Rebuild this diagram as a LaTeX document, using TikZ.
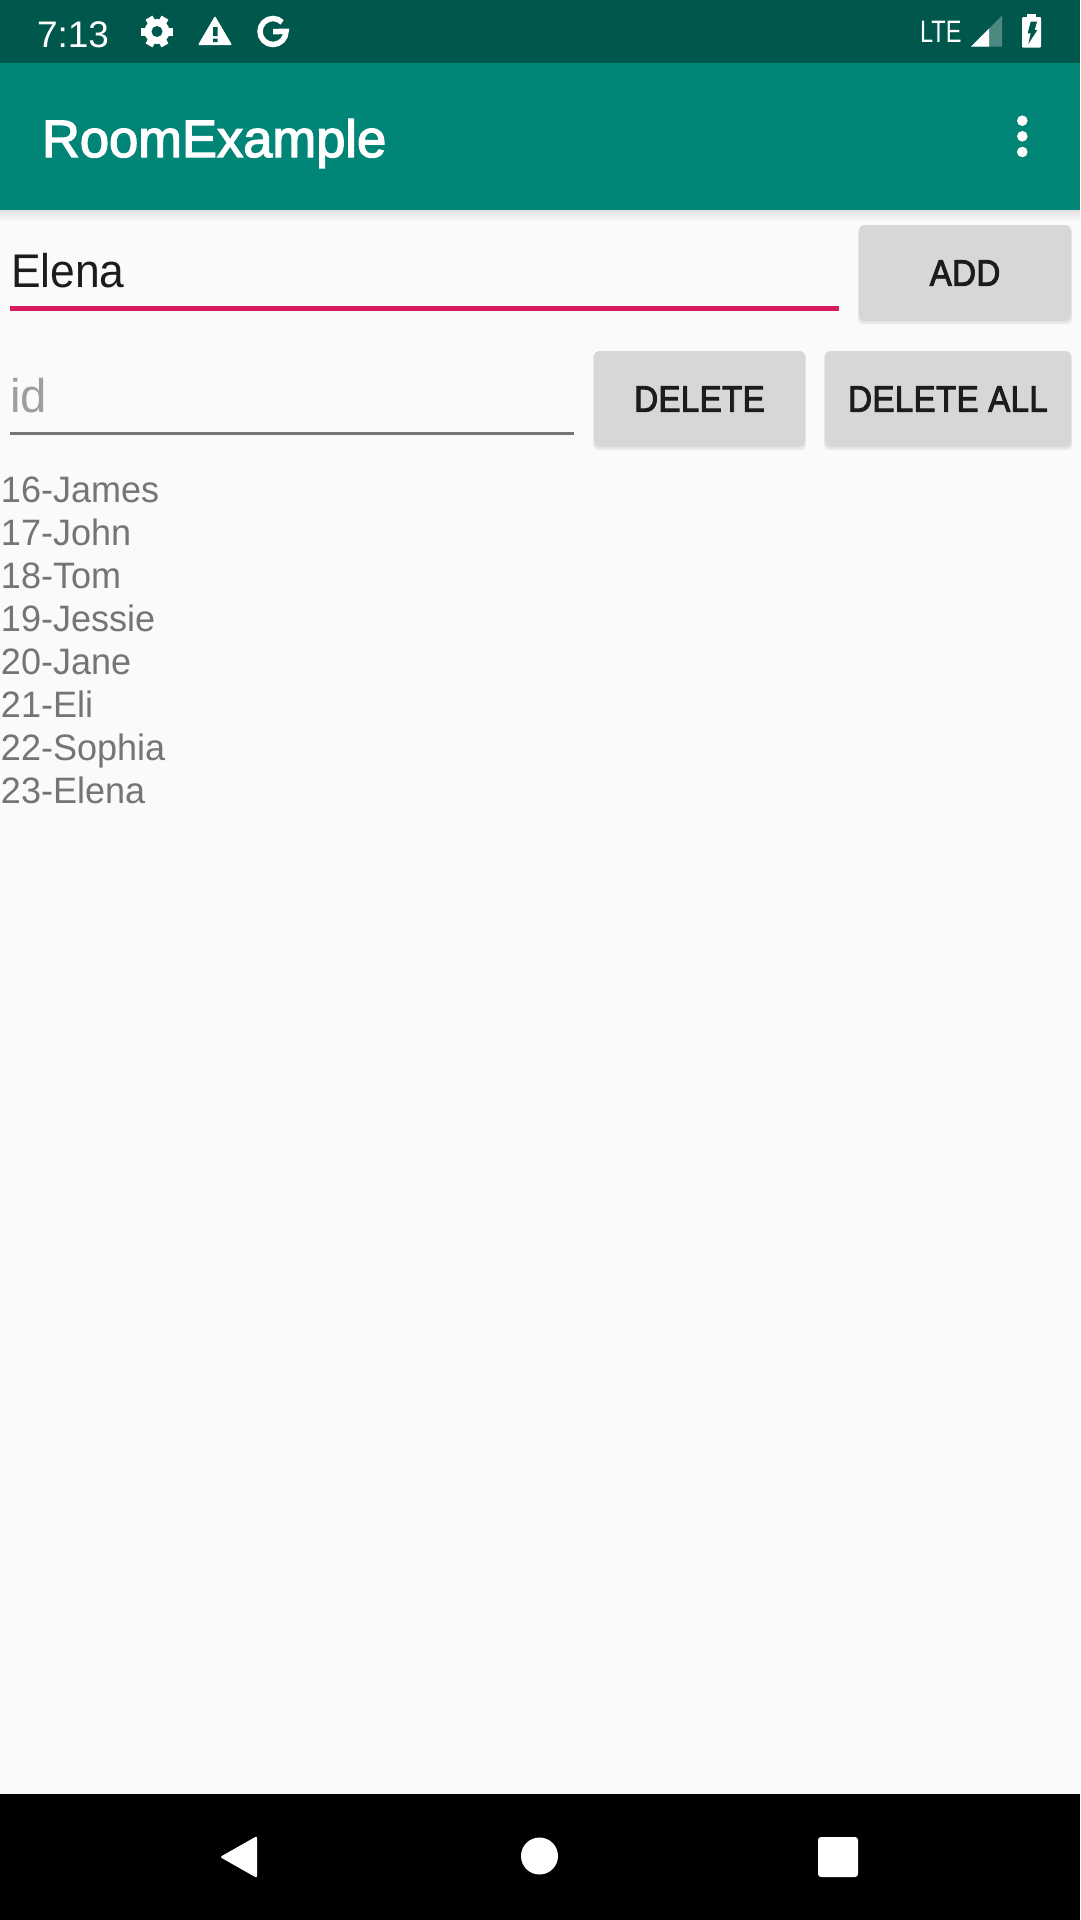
\documentclass[tikz,border=0pt]{standalone}
\usepackage{fontspec}
\setmainfont{Liberation Sans}
\newfontfamily\titlefont[FakeBold=2.6]{Liberation Sans}
\newfontfamily\btnfont[FakeBold=2.6, FakeStretch=.9, LetterSpace=1]{Liberation Sans}
\newfontfamily\narrowfont[FakeStretch=.76]{Liberation Sans}
\newfontfamily\fieldfont[FakeStretch=.94]{Liberation Sans}
\newfontfamily\listfont[FakeStretch=.98]{Liberation Sans}
\definecolor{statusgreen}{HTML}{00574B}
\definecolor{barteal}{HTML}{008577}
\definecolor{pagegray}{HTML}{FAFAFA}
\definecolor{btngray}{HTML}{D6D7D7}
\definecolor{btntext}{HTML}{1C1C1C}
\definecolor{accentpink}{HTML}{D81B60}
\definecolor{hintgray}{HTML}{9E9E9E}
\definecolor{listgray}{HTML}{757575}
\tikzset{
    label text/.style={anchor=base west, inner sep=0pt, outer sep=0pt},
    btn/.style={rounded corners=5pt, fill=btngray, text=btntext, inner sep=0pt, minimum height=96pt,
        font=\btnfont\fontsize{36.75}{40}\selectfont},
    btnshadow/.style={rounded corners=6pt, fill=black, opacity=.07},
}
\begin{document}
\begin{tikzpicture}[x=1pt, y=-1pt]
\useasboundingbox (0,0) rectangle (1080,1920);
\fill[pagegray] (0,0) rectangle (1080,1920);
\fill[statusgreen] (0,0) rectangle (1080,63);
\fill[barteal] (0,63) rectangle (1080,210);
\shade[top color=black!10!pagegray, bottom color=pagegray] (0,210) rectangle (1080,221);
\fill[black] (0,1794) rectangle (1080,1920);

\node[label text, text=white, font=\fontsize{37}{40}\selectfont] (clock) at (37,47) {7:13};
\foreach \a in {30,90,...,330}
    \fill[white, rotate around={\a:(157,31.5)}] (153,31.5) rectangle (161,15.5);
\fill[white] (157,31.5) circle(12.5);
\fill[statusgreen] (157,31.5) circle(5.5);
\fill[white, rounded corners=1pt] (198,45) -- (215,16) -- (232,45) -- cycle;
\fill[statusgreen] (213,27) rectangle (217.5,36) (213,38.5) rectangle (217.5,42);
\draw[white, line width=5.5pt] (282.2,22.3) arc[start angle=45, end angle=360, radius=13pt] -- (273,31.5);

\node[label text, text=white, font=\narrowfont\fontsize{31}{34}\selectfont] (network) at (920,42) {LTE};
\fill[white!30!statusgreen, rounded corners=.5pt] (971,46.7) -- (1002,15.7) -- (1002,46.7) -- cycle;
\fill[white] (971,46.7) -- (989,28.7) -- (989,46.7) -- cycle;
\fill[white, rounded corners=1pt] (1022,17) rectangle (1041,47.7);
\fill[white] (1027,14) rectangle (1036,18);
\fill[statusgreen] (1030.7,21.7) -- (1037,21.7) -- (1034.7,30) -- (1037.3,30) -- (1028.3,44) -- (1030.7,33.3) -- (1027.7,33.3) -- cycle;

\node[label text, text=white, font=\titlefont\fontsize{52.5}{56}\selectfont] (title) at (42,157) {RoomExample};
\foreach \y in {120.7,136.3,152}
    \fill[white] (1022.3,\y) circle(5.3);

\node[label text, text=btntext, font=\fieldfont\fontsize{47.25}{50}\selectfont] (name) at (11,287) {Elena};
\fill[accentpink] (10,306) rectangle (839,311);
\node[label text, text=hintgray, font=\fontsize{47.25}{50}\selectfont] (id) at (10,412.5) {id};
\fill[listgray] (10,432) rectangle (574,435);

\fill[btnshadow] (858,226) rectangle (1072,324);
\fill[btnshadow] (593,352) rectangle (806,450);
\fill[btnshadow] (824,352) rectangle (1072,450);
\node[btn, minimum width=212pt] (add) at (965,273) {ADD};
\node[btn, minimum width=211pt] (delete) at (699.5,399) {DELETE};
\node[btn, minimum width=246pt] (deleteall) at (948,399) {DELETE ALL};

\foreach \t [count=\i from 0] in {16-James,17-John,18-Tom,19-Jessie,20-Jane,21-Eli,22-Sophia,23-Elena}
    \node[label text, text=listgray, font=\listfont\fontsize{36.75}{40}\selectfont] (item\i) at (1,502+43*\i) {\t};

\fill[white, rounded corners=2pt] (220,1857) -- (257,1836) -- (257,1878) -- cycle;
\fill[white] (539.5,1856) circle(18.5);
\fill[white, rounded corners=3pt] (818,1837) rectangle (858,1877);
\end{tikzpicture}
\end{document}
